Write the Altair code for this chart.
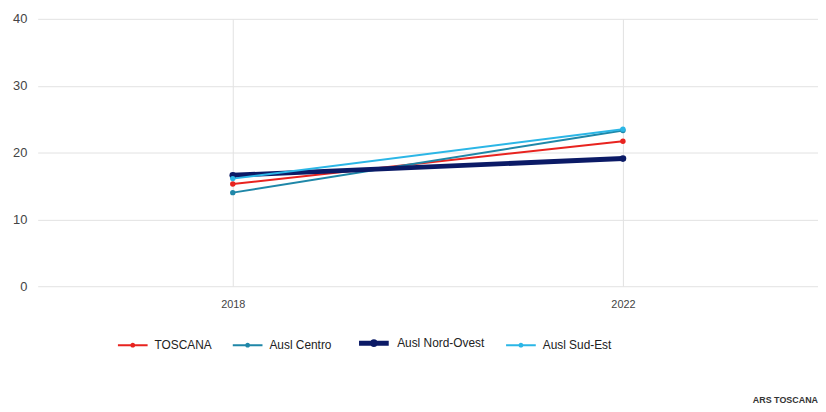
import altair as alt
import pandas as pd

years = ["2018", "2022"]
series = ["TOSCANA", "Ausl Centro", "Ausl Nord-Ovest", "Ausl Sud-Est"]
toscana = [15.3, 21.7]
centro = [14.0, 23.3]
nord_ovest = [16.6, 19.1]
sud_est = [16.1, 23.5]
colors = ["#e8231f", "#1f87a8", "#0b1a66", "#2bb6e6"]
widths = [2, 2, 5, 2]

rows = []
for name, vals in zip(series, [toscana, centro, nord_ovest, sud_est]):
    for y, v in zip(years, vals):
        rows.append({"Anno": y, "Serie": name, "Valore": v})
df = pd.DataFrame(rows)

sym = "M-1,0H1M-0.1,0A0.1,0.1 0 1,0 0.1,0A0.1,0.1 0 1,0 -0.1,0"


def leg():
    return alt.Legend(orient="none", legendX=80, legendY=310,
                      direction="horizontal", symbolType=sym,
                      symbolSize=900, labelFontSize=12,
                      labelColor="#222", columnPadding=17,
                      labelOffset=6, labelFont="Liberation Sans")


x = alt.X("Anno:O", title=None, sort=years,
          scale=alt.Scale(type="point", padding=0.5),
          axis=alt.Axis(labelAngle=0, labelFontSize=11, labelColor="#444",
                        labelPadding=12, ticks=False, domain=False,
                        grid=True, gridColor="#e2e2e2"))
y = alt.Y("Valore:Q", title=None,
          scale=alt.Scale(domain=[0, 40]),
          axis=alt.Axis(values=[0, 10, 20, 30, 40], labelFontSize=13,
                        labelColor="#444", labelPadding=11, ticks=False,
                        domain=False, gridColor="#e2e2e2"))
color = alt.Color("Serie:N", sort=series, title=None,
                  scale=alt.Scale(type="ordinal", domain=series, range=colors),
                  legend=leg())
sw = alt.StrokeWidth("Serie:N", sort=series, title=None,
                     scale=alt.Scale(type="ordinal", domain=series, range=widths),
                     legend=leg())
is_no = alt.datum.Serie == "Ausl Nord-Ovest"

lines = alt.Chart(df).mark_line().encode(
    x=x, y=y, color=color, strokeWidth=sw, order=alt.Order("Anno:O"))
points = alt.Chart(df).mark_circle(opacity=1).encode(
    x=x, y=y,
    color=alt.Color("Serie:N", sort=series,
                    scale=alt.Scale(type="ordinal", domain=series, range=colors),
                    legend=None),
    size=alt.condition(is_no, alt.value(45), alt.value(30)))

chart = alt.layer(lines, points).properties(
    width=788, height=270,
    padding={"left": 4, "top": 3, "right": 0, "bottom": 0},
    title=alt.TitleParams("ARS TOSCANA", orient="bottom", anchor="end",
                          fontSize=9, fontWeight="bold", color="#333",
                          offset=42, font="Liberation Sans"),
).configure_view(stroke=None).configure_axis(labelFont="Liberation Sans")

chart.save("out.html", embed_options={"renderer": "svg", "actions": False})
